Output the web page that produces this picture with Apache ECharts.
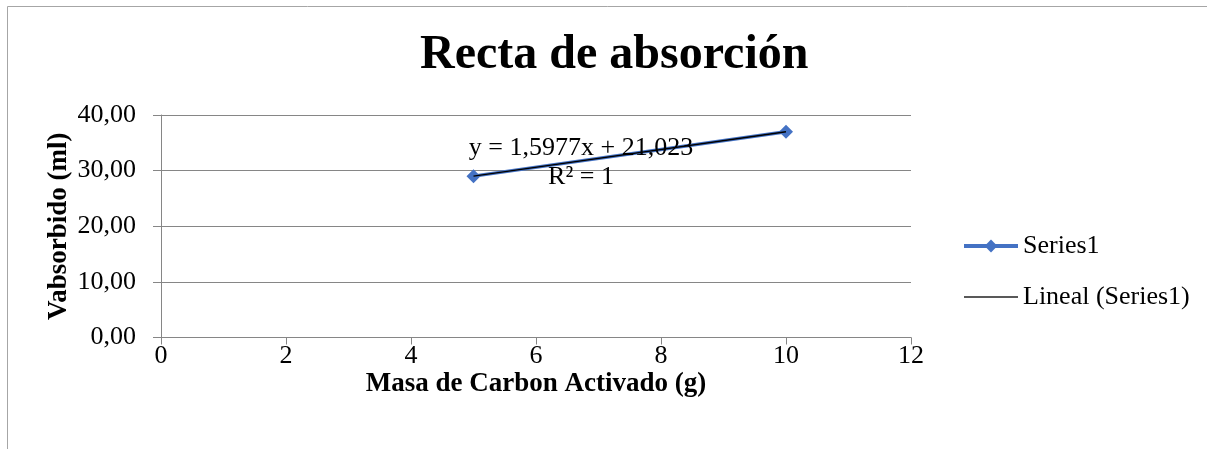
<!DOCTYPE html>
<html>
<head>
<meta charset="utf-8">
<script src="https://cdn.jsdelivr.net/npm/echarts@6/dist/echarts.min.js"></script>
<style>
  html, body { margin: 0; padding: 0; background: #fff; }
  #chart { width: 1207px; height: 449px; }
</style>
</head>
<body>
<div id="chart"></div>
<script>
// data
const masa = [5, 10]
const volumen = [29.01, 37.0]
// trendline end points (y = 1,5977x + 21,023)
const trendX = [5, 10]
const trendY = [29.01, 37.0]
const yTicks = [0, 10, 20, 30, 40]
const eqText = 'y = 1,5977x + 21,023'
const r2Text = 'R² = 1'

const serif = "'Liberation Serif', 'Times New Roman', serif"
const chart = echarts.init(document.getElementById('chart'))

const option = {
  animation: false,
  backgroundColor: '#fff',
  title: {
    text: 'Recta de absorción',
    left: 415,
    top: 27,
    textStyle: { fontFamily: serif, fontSize: 48, fontWeight: 'bold', color: '#000' }
  },
  graphic: [{
    type: 'rect',
    shape: { x: 7.5, y: 6.5, width: 1210, height: 450 },
    style: { fill: 'none', stroke: '#a6a6a6', lineWidth: 1 },
    silent: true
  }],
  legend: {
    orient: 'vertical',
    left: 957,
    top: 228,
    itemWidth: 54,
    itemHeight: 16,
    itemGap: 25,
    textStyle: { fontFamily: serif, fontSize: 26, color: '#000' },
    data: [
      { name: 'Series1', lineStyle: { width: 4 } },
      {
        name: 'Lineal (Series1)',
        icon: 'path://M0,0 L54,0 L54,1.5 L0,1.5 Z',
        itemStyle: { color: '#222' }
      }
    ]
  },
  grid: { left: 161, right: 296, top: 115, bottom: 111.5 },
  xAxis: {
    type: 'value',
    min: 0, max: 12, interval: 2,
    name: 'Masa de Carbon Activado (g)',
    nameLocation: 'middle',
    nameGap: 28,
    nameTextStyle: { fontFamily: serif, fontSize: 27, fontWeight: 'bold', color: '#000' },
    axisLine: { lineStyle: { color: '#868686', width: 1 } },
    axisTick: { show: true, length: 7, lineStyle: { color: '#868686' } },
    axisLabel: { fontFamily: serif, fontSize: 26, color: '#000', margin: 6 },
    splitLine: { show: false }
  },
  yAxis: {
    type: 'value',
    min: yTicks[0], max: yTicks[yTicks.length - 1], interval: 10,
    name: 'Vabsorbido (ml)',
    nameLocation: 'middle',
    nameGap: 88,
    nameMoveOverlap: false,
    nameTextStyle: { fontFamily: serif, fontSize: 27, fontWeight: 'bold', color: '#000' },
    axisLine: { show: true, lineStyle: { color: '#868686', width: 1 } },
    axisTick: { show: true, length: 8, lineStyle: { color: '#868686' } },
    axisLabel: {
      fontFamily: serif, fontSize: 26, color: '#000', margin: 25,
      formatter: v => v.toFixed(2).replace('.', ',')
    },
    splitLine: { show: true, lineStyle: { color: '#868686', width: 1 } }
  },
  series: [
    {
      name: 'Series1',
      type: 'line',
      data: masa.map((x, i) => [x, volumen[i]]),
      symbol: 'diamond',
      symbolSize: 14,
      itemStyle: { color: '#4472c4' },
      lineStyle: { color: '#4472c4', width: 3.5 },
      z: 2
    },
    {
      name: 'Lineal (Series1)',
      type: 'line',
      data: trendX.map((x, i) => [x, trendY[i]]),
      symbol: 'none',
      itemStyle: { color: '#000' },
      lineStyle: { color: '#000', width: 1.5 },
      z: 3,
      markPoint: {
        symbol: 'circle',
        symbolSize: 0,
        data: [{ coord: [6.72, 31.45] }],
        label: {
          show: true,
          position: 'inside',
          formatter: eqText + '\n' + r2Text,
          fontFamily: serif,
          fontSize: 26,
          lineHeight: 29,
          color: '#000',
          align: 'center'
        }
      }
    }
  ]
}

chart.setOption(option)
</script>
</body>
</html>
